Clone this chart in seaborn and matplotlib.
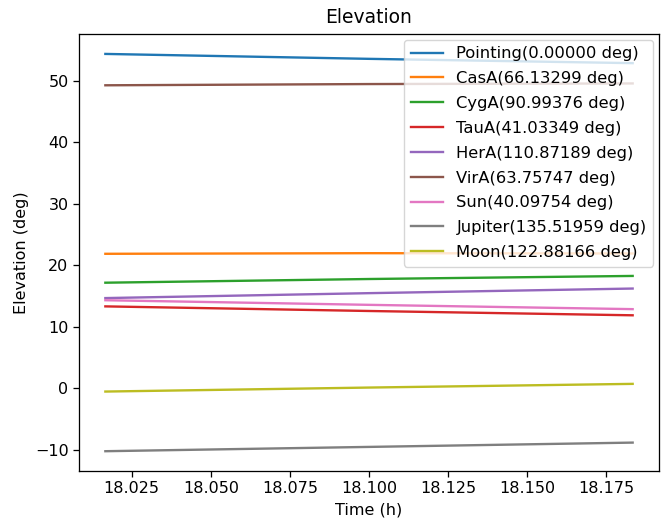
import numpy as np
import pandas as pd
import matplotlib
matplotlib.use("Agg")
import matplotlib.pyplot as plt
import seaborn as sns

times = [18.0167, 18.1, 18.1833]
labels = ["Pointing(0.00000 deg)", "CasA(66.13299 deg)", "CygA(90.99376 deg)",
          "TauA(41.03349 deg)", "HerA(110.87189 deg)", "VirA(63.75747 deg)",
          "Sun(40.09754 deg)", "Jupiter(135.51959 deg)", "Moon(122.88166 deg)"]
pointing = [54.4, 53.6, 52.9]
casa = [21.9, 22.0, 21.95]
cyga = [17.2, 17.8, 18.3]
taua = [13.35, 12.6, 11.9]
hera = [14.7, 15.5, 16.25]
vira = [49.3, 49.5, 49.6]
sun = [14.35, 13.6, 12.9]
jupiter = [-10.2, -9.5, -8.8]
moon = [-0.5, 0.15, 0.75]

plt.rcParams.update({
    "font.size": 11.5,
    "axes.linewidth": 0.92,
    "xtick.major.width": 0.92,
    "ytick.major.width": 0.92,
    "xtick.major.size": 4.0,
    "ytick.major.size": 4.0,
})

series = [pointing, casa, cyga, taua, hera, vira, sun, jupiter, moon]
rows = []
for lab, vals in zip(labels, series):
    for t, v in zip(times, vals):
        rows.append({"Time": t, "Elevation": v, "Source": lab})
df = pd.DataFrame(rows)

fig = plt.figure(figsize=(6.61, 5.24), dpi=100)
ax = fig.add_subplot(111)
sns.lineplot(data=df, x="Time", y="Elevation", hue="Source", hue_order=labels,
             palette=sns.color_palette("tab10", 9), ax=ax, linewidth=1.7)
ax.set_title("Elevation", fontsize=13.5, pad=8)
ax.set_xlabel("Time (h)")
ax.set_ylabel("Elevation (deg)")
ax.set_xticks([18.025, 18.05, 18.075, 18.1, 18.125, 18.15, 18.175])
ax.legend(loc="upper right", title=None, fontsize=11.8, handlelength=2.0,
          labelspacing=0.6, borderaxespad=0.35)
fig.subplots_adjust(left=0.1195, right=0.997, top=0.935, bottom=0.101)
fig.savefig("out.png", dpi=100)
